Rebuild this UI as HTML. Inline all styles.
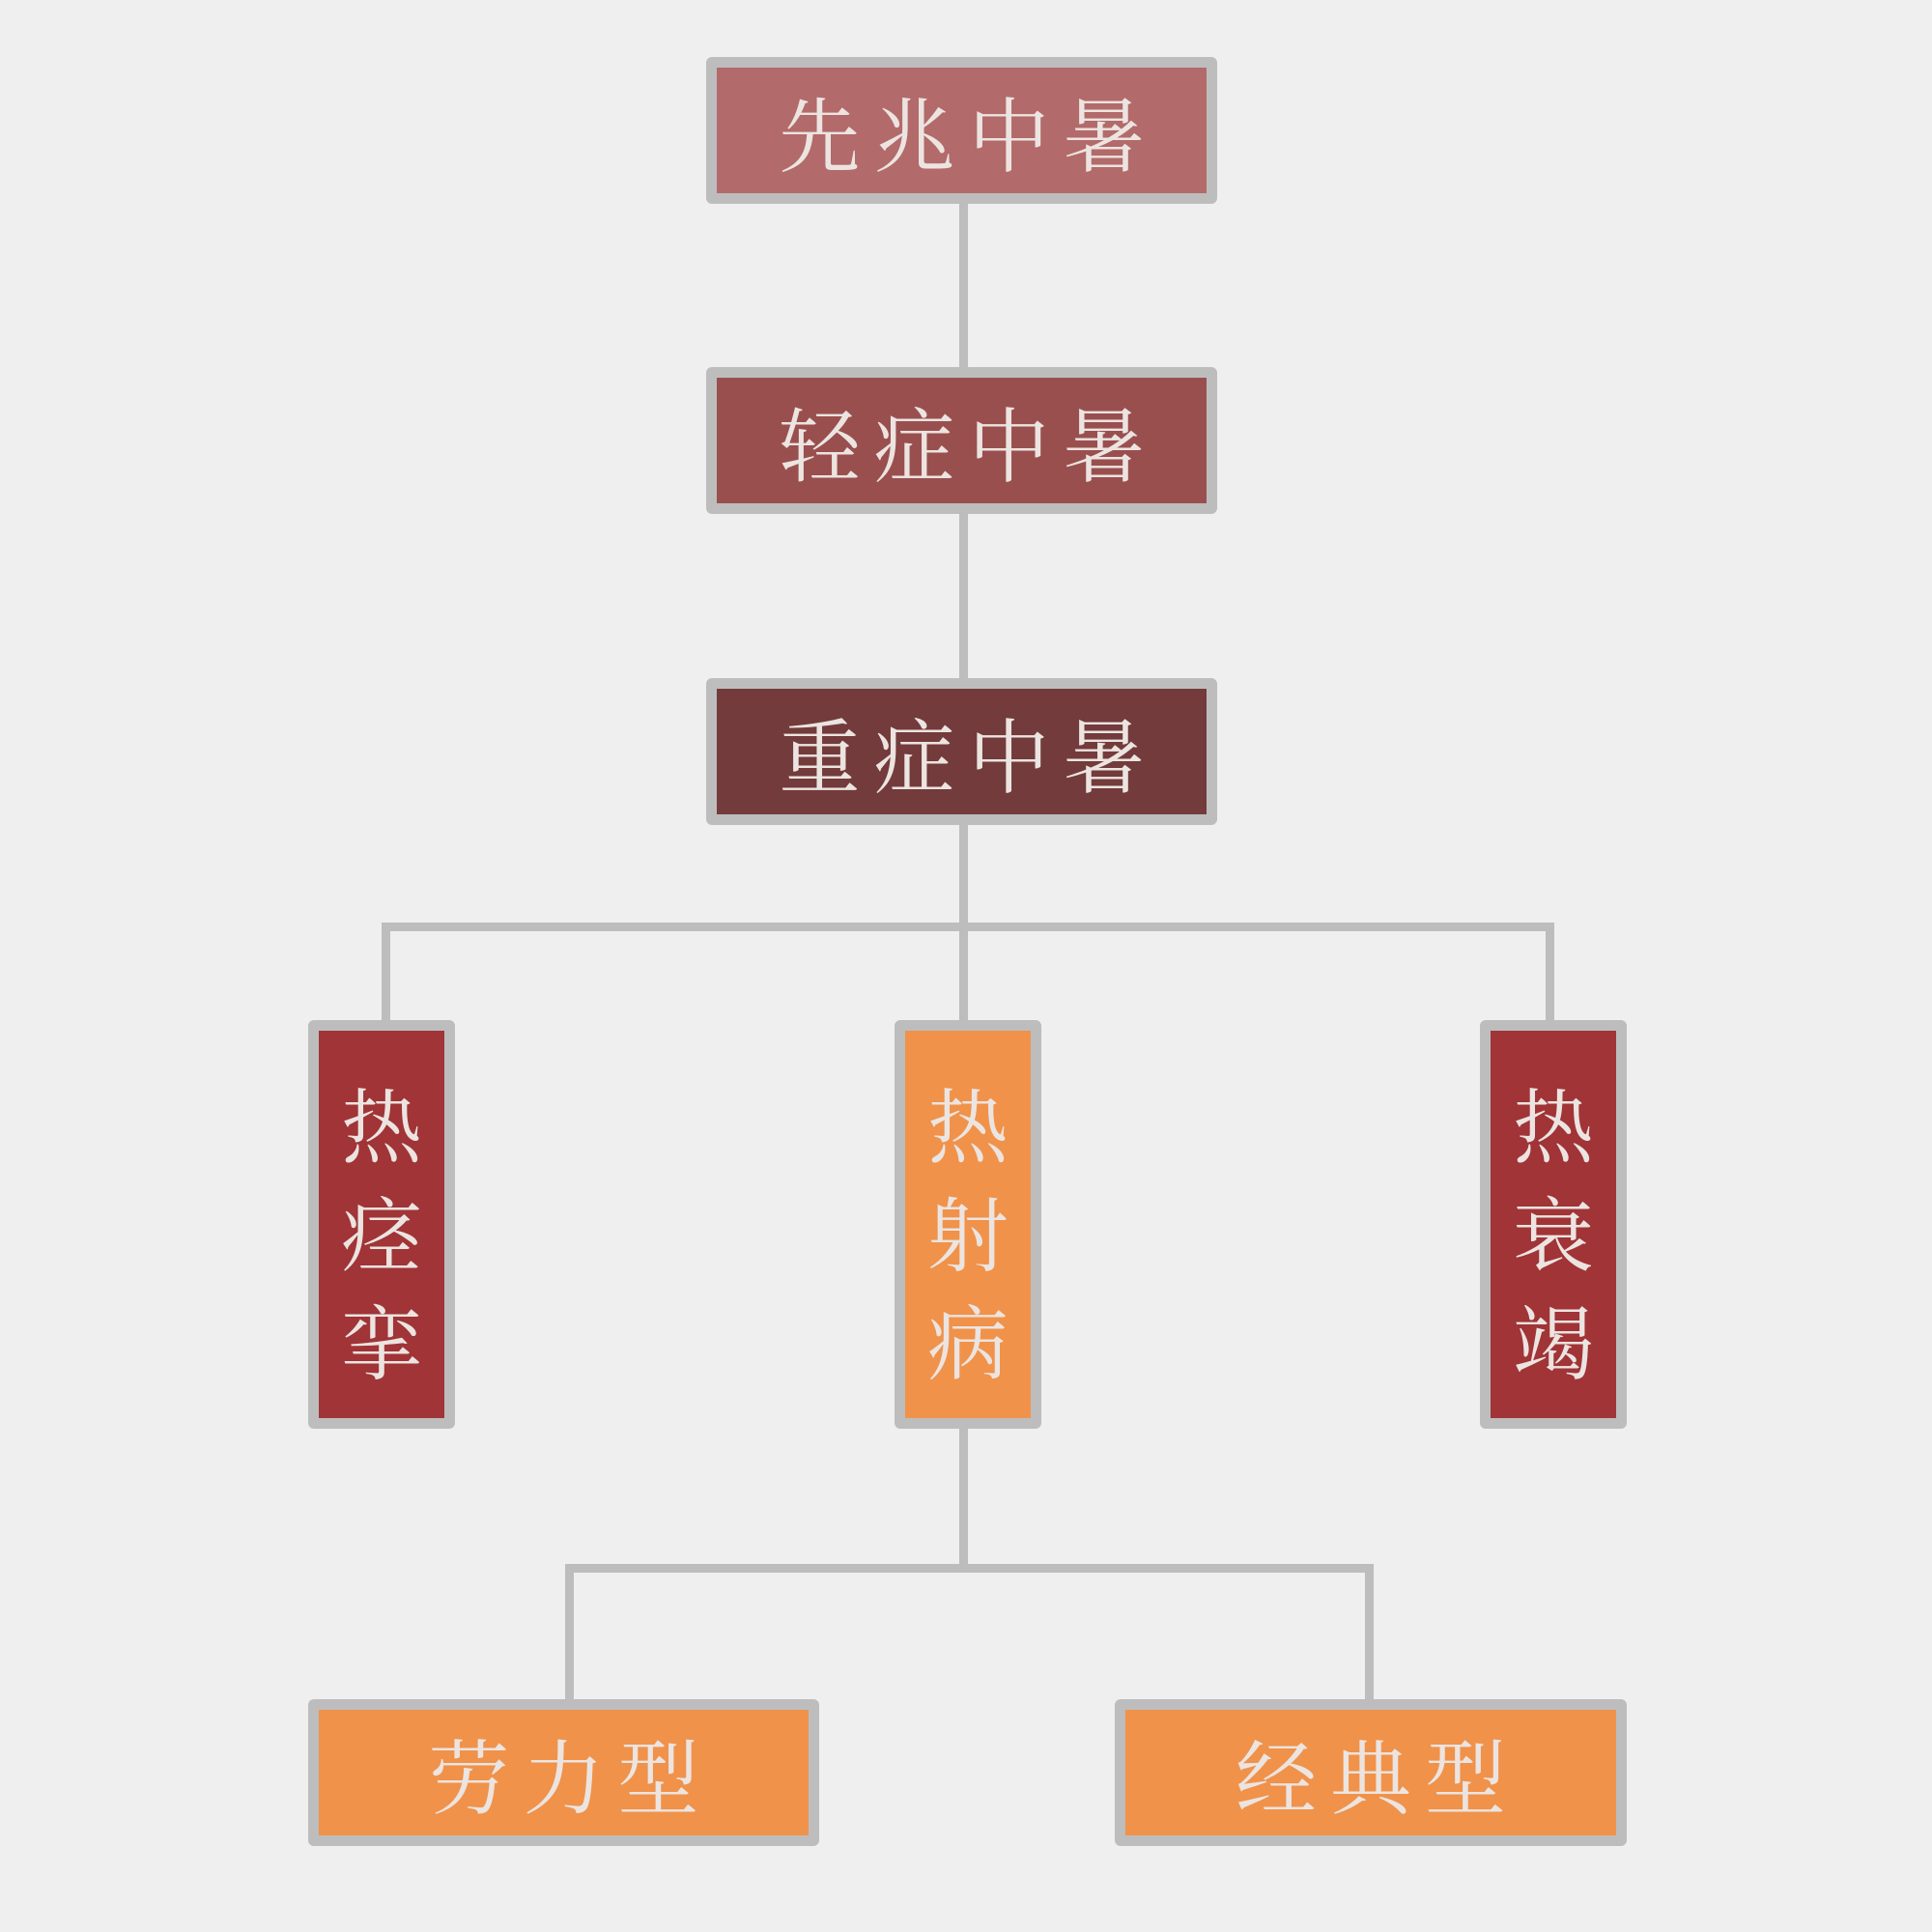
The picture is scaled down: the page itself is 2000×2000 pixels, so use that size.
<!DOCTYPE html>
<html><head><meta charset="utf-8"><style>
html,body{margin:0;padding:0;}
body{width:2000px;height:2000px;background:#efefef;position:relative;overflow:hidden;font-family:"Liberation Serif","Noto Serif CJK SC","Noto Sans CJK SC",serif;}
.b{position:absolute;box-sizing:border-box;border:11px solid #bdbdbd;border-radius:6px;color:#ece4e0;display:flex;align-items:center;justify-content:center;}
.h{font-size:84px;letter-spacing:14px;padding-left:14px;}
.v{font-size:84px;line-height:112px;flex-direction:column;padding-top:28px;}
.l{position:absolute;background:#bdbdbd;}
</style></head><body>
<div class="l" style="left:993px;top:200px;width:9px;height:190px"></div>
<div class="l" style="left:993px;top:520px;width:9px;height:190px"></div>
<div class="l" style="left:993px;top:845px;width:9px;height:220px"></div>
<div class="l" style="left:395px;top:955px;width:1214px;height:9px"></div>
<div class="l" style="left:395px;top:955px;width:9px;height:110px"></div>
<div class="l" style="left:1600px;top:955px;width:9px;height:110px"></div>
<div class="l" style="left:993px;top:1470px;width:9px;height:158px"></div>
<div class="l" style="left:585px;top:1619px;width:837px;height:9px"></div>
<div class="l" style="left:585px;top:1619px;width:9px;height:147px"></div>
<div class="l" style="left:1413px;top:1619px;width:9px;height:147px"></div>

<div class="b h" style="left:731px;top:59px;width:529px;height:152px;background:#b36a6a">先兆中暑</div>
<div class="b h" style="left:731px;top:380px;width:529px;height:152px;background:#9a4f4f">轻症中暑</div>
<div class="b h" style="left:731px;top:702px;width:529px;height:152px;background:#733b3b">重症中暑</div>
<div class="b v" style="left:319px;top:1056px;width:152px;height:423px;background:#a03437"><span>热</span><span>痉</span><span>挛</span></div>
<div class="b v" style="left:926px;top:1056px;width:152px;height:423px;background:#f0924a"><span>热</span><span>射</span><span>病</span></div>
<div class="b v" style="left:1532px;top:1056px;width:152px;height:423px;background:#a03437"><span>热</span><span>衰</span><span>竭</span></div>
<div class="b h" style="left:319px;top:1759px;width:529px;height:152px;background:#f0924a">劳力型</div>
<div class="b h" style="left:1154px;top:1759px;width:530px;height:152px;background:#f0924a">经典型</div>
</body></html>
